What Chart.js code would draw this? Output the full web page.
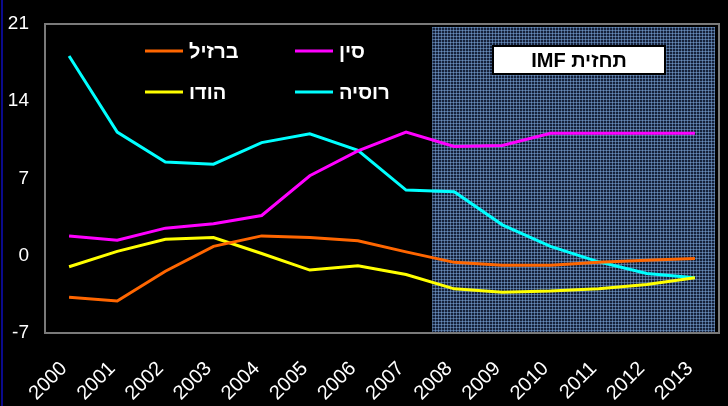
<!DOCTYPE html>
<html><head><meta charset="utf-8">
<script src="https://cdn.jsdelivr.net/npm/chart.js@4/dist/chart.umd.min.js"></script>
<style>
html,body{margin:0;padding:0;background:#000;overflow:hidden;}
#wrap{position:relative;width:728px;height:406px;background:#000;}
#edge{position:absolute;left:1px;top:0;width:2px;height:406px;background:#0a0a8c;}
canvas{display:block;}
</style></head><body>
<div id="wrap"><canvas id="c" width="728" height="406"></canvas><div id="edge"></div></div>
<script>
const years = ['2000','2001','2002','2003','2004','2005','2006','2007','2008','2009','2010','2011','2012','2013'];
const brazil = [-3.75,-4.1,-1.4,0.85,1.8,1.65,1.35,0.35,-0.6,-0.85,-0.85,-0.6,-0.4,-0.25];
const china  = [1.8,1.4,2.5,2.9,3.65,7.25,9.5,11.2,9.9,10.0,11.1,11.1,11.1,11.1];
const india  = [-1.0,0.4,1.5,1.65,0.2,-1.3,-0.9,-1.7,-3.0,-3.3,-3.2,-3.0,-2.6,-2.0];
const russia = [18.1,11.2,8.5,8.3,10.25,11.05,9.55,5.95,5.8,2.8,0.85,-0.55,-1.6,-2.0];
const seriesNames = ['ברזיל','סין','הודו','רוסיה'];
const seriesColors = ['#ff6600','#ff00ff','#ffff00','#00ffff'];
const yMin = -7, yMax = 21, yStep = 7;
const forecastStart = '2008';
const forecastLabel = 'תחזית IMF';
const FONT = '"Liberation Sans", Arial, "DejaVu Sans", sans-serif';

// pattern for forecast region
const tile = document.createElement('canvas');
tile.width = 3; tile.height = 3;
const tc = tile.getContext('2d');
tc.fillStyle = '#16213a'; tc.fillRect(0,0,3,3);
tc.fillStyle = '#4a6890'; tc.fillRect(0,0,3,1); tc.fillRect(0,0,1,3);
tc.fillStyle = '#6b8cb8'; tc.fillRect(0,0,1,1);

const bgPlugin = {
  id: 'bg',
  beforeDatasetsDraw(chart) {
    const {ctx, chartArea: a, scales: {x}} = chart;
    ctx.save();
    const i = years.indexOf(forecastStart);
    const left = (x.getPixelForValue(i - 1) + x.getPixelForValue(i)) / 2 + 2;
    const right = a.right - 4, top = a.top + 3, bottom = a.bottom - 1;
    ctx.fillStyle = ctx.createPattern(tile, 'repeat');
    ctx.fillRect(left, top, right - left, bottom - top);
    ctx.strokeStyle = '#7a7a7a';
    ctx.lineWidth = 2;
    ctx.strokeRect(a.left, a.top, a.right - a.left, a.bottom - a.top);
    ctx.restore();
  },
  afterDatasetsDraw(chart) {
    const {ctx} = chart;
    ctx.save();
    // legend
    ctx.font = 'bold 20px ' + FONT;
    ctx.textBaseline = 'middle';
    ctx.textAlign = 'left';
    const pos = [[145,51],[295,51],[145,92],[295,92]];
    chart.data.datasets.forEach((d, k) => {
      const [lx, ly] = pos[k];
      ctx.strokeStyle = d.borderColor; ctx.lineWidth = 3;
      ctx.beginPath(); ctx.moveTo(lx, ly); ctx.lineTo(lx + 38, ly); ctx.stroke();
      ctx.fillStyle = '#fff';
      ctx.fillText(d.label, lx + 44, ly + 1);
    });
    // IMF box
    const bx = 493, by = 46, bw = 172, bh = 28;
    ctx.fillStyle = '#fff'; ctx.fillRect(bx, by, bw, bh);
    ctx.strokeStyle = '#000'; ctx.lineWidth = 2; ctx.strokeRect(bx, by, bw, bh);
    ctx.fillStyle = '#000';
    ctx.font = 'bold 20px ' + FONT;
    ctx.direction = 'rtl';
    ctx.textAlign = 'center';
    ctx.fillText(forecastLabel, bx + bw / 2, by + bh / 2 + 1);
    ctx.restore();
  }
};

const mk = (k, data) => ({
  label: seriesNames[k], data, borderColor: seriesColors[k], backgroundColor: seriesColors[k],
  borderWidth: 3, pointRadius: 0, tension: 0, fill: false
});

new Chart(document.getElementById('c'), {
  type: 'line',
  data: { labels: years, datasets: [mk(0, brazil), mk(1, china), mk(2, india), mk(3, russia)] },
  options: {
    responsive: false, animation: false, devicePixelRatio: 1,
    layout: { padding: { top: 24, right: 9, left: 0, bottom: 0 } },
    plugins: { legend: { display: false }, tooltip: { enabled: false } },
    scales: {
      x: {
        offset: true,
        grid: { display: false, drawTicks: false },
        border: { display: false },
        ticks: { color: '#fff', font: { size: 20, family: FONT }, minRotation: 45, maxRotation: 45, padding: 24, labelOffset: -5, autoSkip: false },
        afterFit(s) { s.height = 73; s.paddingLeft = 0; s.paddingRight = 0; s.paddingTop = 0; s.paddingBottom = 0; }
      },
      y: {
        min: yMin, max: yMax,
        grid: { display: false, drawTicks: false },
        border: { display: false },
        ticks: { stepSize: yStep, color: '#fff', font: { size: 19, family: FONT }, padding: 16 },
        afterFit(s) { s.width = 45; s.paddingTop = 0; s.paddingBottom = 0; }
      }
    }
  },
  plugins: [bgPlugin]
});
</script>
</body></html>
